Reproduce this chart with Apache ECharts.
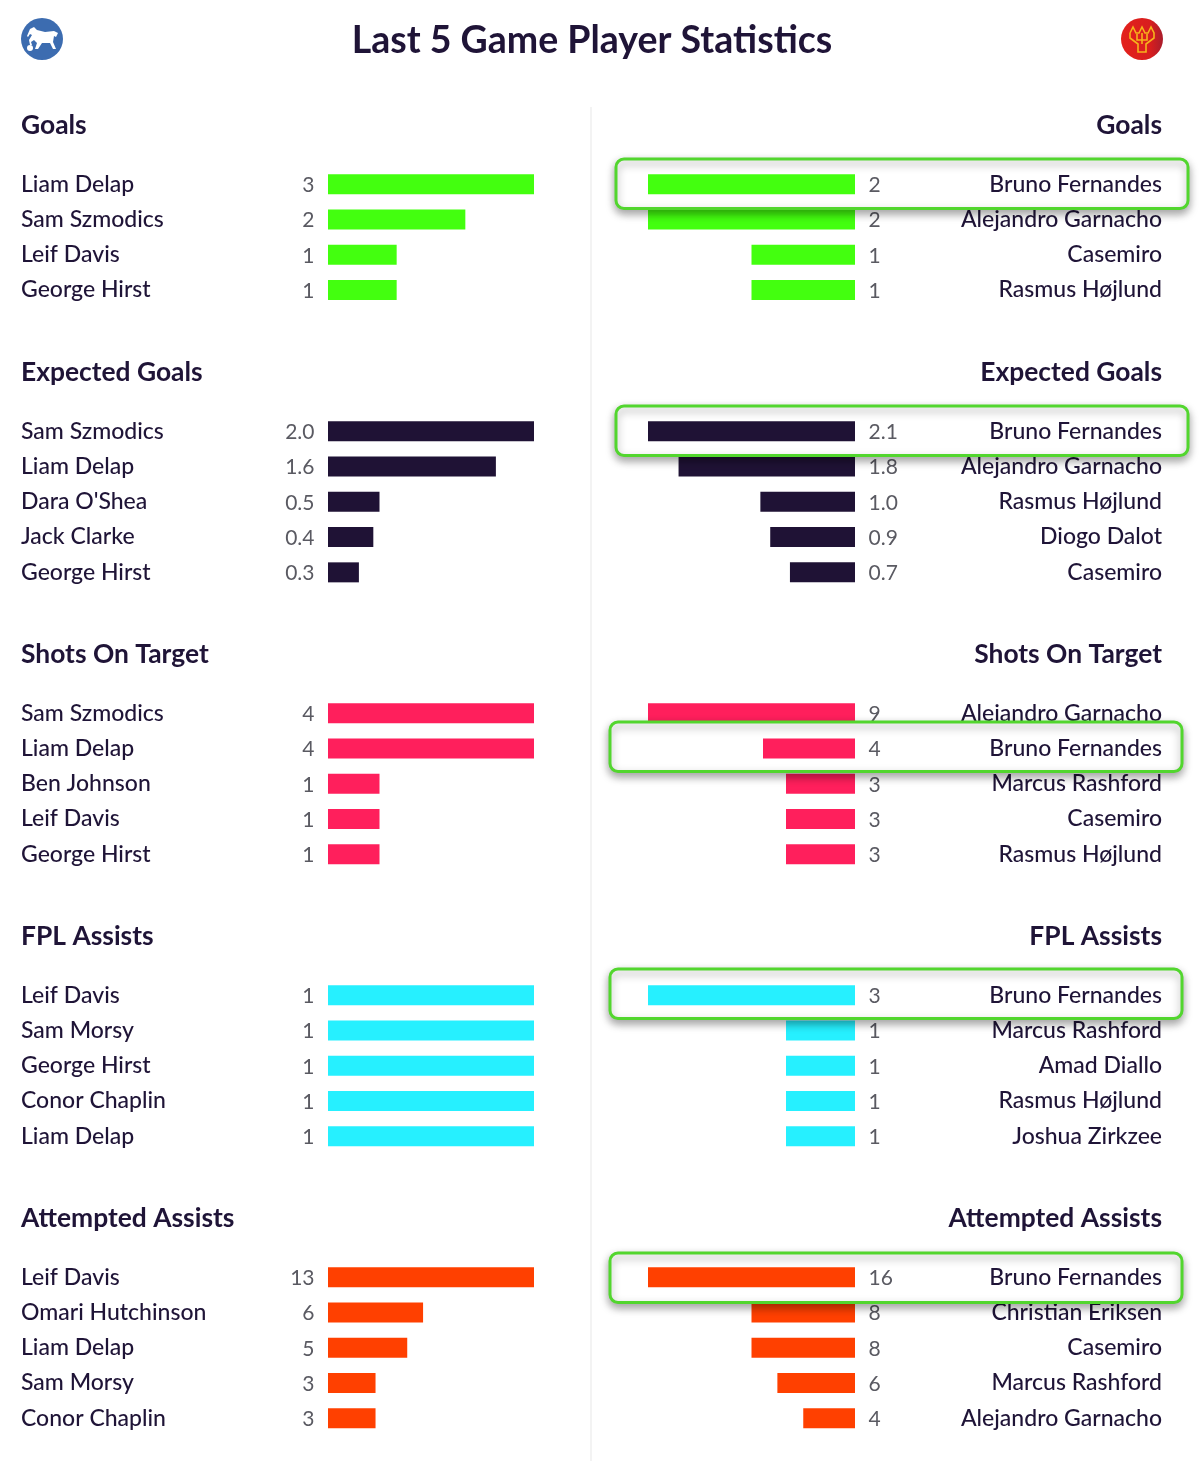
<!DOCTYPE html>
<html>
<head>
<meta charset="utf-8">
<title>Last 5 Game Player Statistics</title>
<script src="https://cdn.jsdelivr.net/npm/echarts@6/dist/echarts.min.js"></script>
<style>
  html, body { margin: 0; padding: 0; background: #fff; }
  #main { width: 1200px; height: 1461px; }
</style>
</head>
<body>
<div id="main"></div>
<script>
// data, one pair of lists per panel
var goalsHomeNames = ['Liam Delap', 'Sam Szmodics', 'Leif Davis', 'George Hirst'];
var goalsHomeValues = [3, 2, 1, 1];
var goalsAwayNames = ['Bruno Fernandes', 'Alejandro Garnacho', 'Casemiro', 'Rasmus Højlund'];
var goalsAwayValues = [2, 2, 1, 1];

var xgHomeNames = ['Sam Szmodics', 'Liam Delap', "Dara O'Shea", 'Jack Clarke', 'George Hirst'];
var xgHomeValues = [2.0, 1.63, 0.5, 0.44, 0.3];
var xgAwayNames = ['Bruno Fernandes', 'Alejandro Garnacho', 'Rasmus Højlund', 'Diogo Dalot', 'Casemiro'];
var xgAwayValues = [2.1, 1.79, 0.96, 0.86, 0.66];

var sotHomeNames = ['Sam Szmodics', 'Liam Delap', 'Ben Johnson', 'Leif Davis', 'George Hirst'];
var sotHomeValues = [4, 4, 1, 1, 1];
var sotAwayNames = ['Alejandro Garnacho', 'Bruno Fernandes', 'Marcus Rashford', 'Casemiro', 'Rasmus Højlund'];
var sotAwayValues = [9, 4, 3, 3, 3];

var assistsHomeNames = ['Leif Davis', 'Sam Morsy', 'George Hirst', 'Conor Chaplin', 'Liam Delap'];
var assistsHomeValues = [1, 1, 1, 1, 1];
var assistsAwayNames = ['Bruno Fernandes', 'Marcus Rashford', 'Amad Diallo', 'Rasmus Højlund', 'Joshua Zirkzee'];
var assistsAwayValues = [3, 1, 1, 1, 1];

var attemptedHomeNames = ['Leif Davis', 'Omari Hutchinson', 'Liam Delap', 'Sam Morsy', 'Conor Chaplin'];
var attemptedHomeValues = [13, 6, 5, 3, 3];
var attemptedAwayNames = ['Bruno Fernandes', 'Christian Eriksen', 'Casemiro', 'Marcus Rashford', 'Alejandro Garnacho'];
var attemptedAwayValues = [16, 8, 8, 6, 4];

var focusPlayer = 'Bruno Fernandes';
var FONT = 'Lato';
var DARK = '#1f1437';
var ROW_H = 35.3;

var sections = [
  { title: 'Goals', titleY: 125, top: 166.5, color: '#43ff0f', digits: 0, box: [616, 159],
    home: [goalsHomeNames, goalsHomeValues], away: [goalsAwayNames, goalsAwayValues] },
  { title: 'Expected Goals', titleY: 372, top: 413.5, color: '#1f1235', digits: 1, box: [616, 406],
    home: [xgHomeNames, xgHomeValues], away: [xgAwayNames, xgAwayValues] },
  { title: 'Shots On Target', titleY: 654, top: 695.5, color: '#ff1f5c', digits: 0, box: [610, 722],
    home: [sotHomeNames, sotHomeValues], away: [sotAwayNames, sotAwayValues] },
  { title: 'FPL Assists', titleY: 936, top: 977.5, color: '#26f0ff', digits: 0, box: [610, 969],
    home: [assistsHomeNames, assistsHomeValues], away: [assistsAwayNames, assistsAwayValues] },
  { title: 'Attempted Assists', titleY: 1218, top: 1259.5, color: '#ff4000', digits: 0, box: [610, 1253],
    home: [attemptedHomeNames, attemptedHomeValues], away: [attemptedAwayNames, attemptedAwayValues] }
];

var titles = [{
  text: 'Last 5 Game Player Statistics', left: 592, top: 41, padding: 0,
  textAlign: 'center', textVerticalAlign: 'middle',
  textStyle: { fontFamily: FONT, fontSize: 37.5, fontWeight: 'bold', color: DARK }
}];
var grids = [], xAxes = [], yAxes = [], series = [];
var graphics = [
  { type: 'line', z: 0, shape: { x1: 591, y1: 107, x2: 591, y2: 1461 }, style: { stroke: '#efefef', lineWidth: 1.5 } },
  // Ipswich crest
  { type: 'circle', shape: { cx: 42, cy: 39, r: 21 }, style: { fill: '#3c6cb0' } },
  { type: 'polygon', shape: { points: [[27, 36], [30, 29], [34, 27], [37, 30], [45, 32], [54, 31], [58, 33], [56, 37], [54, 36], [53, 42], [56, 49], [53, 49], [50, 43], [42, 43], [38, 49], [35, 49], [37, 43], [34, 40], [31, 42], [32, 45], [30, 45], [29, 40], [32, 35], [30, 34], [28, 37]] }, style: { fill: '#fff' } },
  { type: 'circle', shape: { cx: 30, cy: 48, r: 3 }, style: { fill: '#fff' } },
  // United crest
  { type: 'circle', shape: { cx: 1142, cy: 39, r: 21 }, style: { fill: { type: 'linear', x: 0, y: 0, x2: 1, y2: 0, colorStops: [{ offset: 0, color: '#e3211c' }, { offset: 0.7, color: '#d81e1e' }, { offset: 1, color: '#a91d2c' }] } } },
  { type: 'polyline', shape: { points: [[1130, 33], [1133, 27], [1136, 33], [1139, 33], [1142, 27], [1145, 33], [1148, 33], [1151, 27], [1154, 33], [1154, 38], [1146, 44], [1146, 52], [1138, 52], [1138, 44], [1130, 38], [1130, 33]] }, style: { fill: 'none', stroke: '#f6b31c', lineWidth: 1.6 } },
  { type: 'polyline', shape: { points: [[1137, 34], [1137, 40], [1147, 40], [1147, 34]] }, style: { fill: 'none', stroke: '#f6b31c', lineWidth: 1.6 } },
  { type: 'line', shape: { x1: 1142, y1: 33, x2: 1142, y2: 44 }, style: { stroke: '#f6b31c', lineWidth: 1.6 } }
];

function addTitle(text, y, alignRight) {
  titles.push({
    text: text, left: alignRight ? 1162 : 21, top: y, padding: 0,
    textAlign: alignRight ? 'right' : 'left', textVerticalAlign: 'middle',
    textStyle: { fontFamily: FONT, fontSize: 26.4, fontWeight: 'bold', color: DARK }
  });
}

function valueLabel(section, position) {
  return {
    show: true, position: position, distance: 13.5, offset: [0, 1],
    fontFamily: FONT, fontSize: 21, color: '#5a5a62',
    formatter: function (p) { return p.value.toFixed(section.digits); }
  };
}

function nameAxis(names, gridIndex, isAway, z, onlyFocus) {
  return {
    type: 'category', gridIndex: gridIndex, data: names, inverse: true, z: z,
    position: isAway ? 'right' : 'left',
    axisLine: { show: false }, axisTick: { show: false },
    axisLabel: {
      interval: 0, margin: 307, align: isAway ? 'right' : 'left',
      padding: [2, 0, 0, 0],
      fontFamily: FONT, fontSize: 23, fontWeight: 500, color: DARK,
      formatter: function (name) {
        if (onlyFocus) return name === focusPlayer ? name : '';
        return isAway && name === focusPlayer ? '' : name;
      }
    }
  };
}

sections.forEach(function (s) {
  addTitle(s.title, s.titleY, false);
  addTitle(s.title, s.titleY, true);

  // left panel
  var g = grids.length;
  grids.push({ left: 328, width: 206, top: s.top, height: s.home[0].length * ROW_H, outerBoundsMode: 'none' });
  xAxes.push({ type: 'value', gridIndex: g, min: 0, max: Math.max.apply(null, s.home[1]), show: false });
  yAxes.push(nameAxis(s.home[0], g, false, 1, false));
  series.push({
    type: 'bar', xAxisIndex: g, yAxisIndex: yAxes.length - 1, z: 2, barWidth: 20, silent: true,
    data: s.home[1], itemStyle: { color: s.color }, label: valueLabel(s, 'left')
  });

  // right panel, bars grow leftwards; focused row sits on top of the highlight box
  g = grids.length;
  grids.push({ left: 648, width: 207, top: s.top, height: s.away[0].length * ROW_H, outerBoundsMode: 'none' });
  xAxes.push({ type: 'value', gridIndex: g, min: 0, max: Math.max.apply(null, s.away[1]), inverse: true, show: false });
  yAxes.push(nameAxis(s.away[0], g, true, 1, false));
  var baseAxis = yAxes.length - 1;
  yAxes.push(nameAxis(s.away[0], g, true, 8, true));
  var topAxis = yAxes.length - 1;
  var focusIdx = s.away[0].indexOf(focusPlayer);
  series.push({
    type: 'bar', xAxisIndex: g, yAxisIndex: baseAxis, z: 2, barWidth: 20, silent: true,
    data: s.away[1].map(function (v, i) { return i === focusIdx ? null : v; }),
    itemStyle: { color: s.color }, label: valueLabel(s, 'right')
  });
  series.push({
    type: 'bar', xAxisIndex: g, yAxisIndex: topAxis, z: 8, barWidth: 20, silent: true,
    data: s.away[1].map(function (v, i) { return i === focusIdx ? v : null; }),
    itemStyle: { color: s.color }, label: valueLabel(s, 'right')
  });

  graphics.push({
    type: 'rect', z: 6,
    shape: { x: s.box[0], y: s.box[1], width: 572, height: 49.5, r: 8 },
    style: { fill: '#fff', stroke: '#52d62e', lineWidth: 3, shadowBlur: 9, shadowOffsetY: 4, shadowColor: 'rgba(0,0,0,0.35)' }
  });
});

var myChart = echarts.init(document.getElementById('main'));
myChart.setOption({
  animation: false,
  title: titles,
  grid: grids,
  xAxis: xAxes,
  yAxis: yAxes,
  series: series,
  graphic: { elements: graphics }
});
</script>
</body>
</html>
